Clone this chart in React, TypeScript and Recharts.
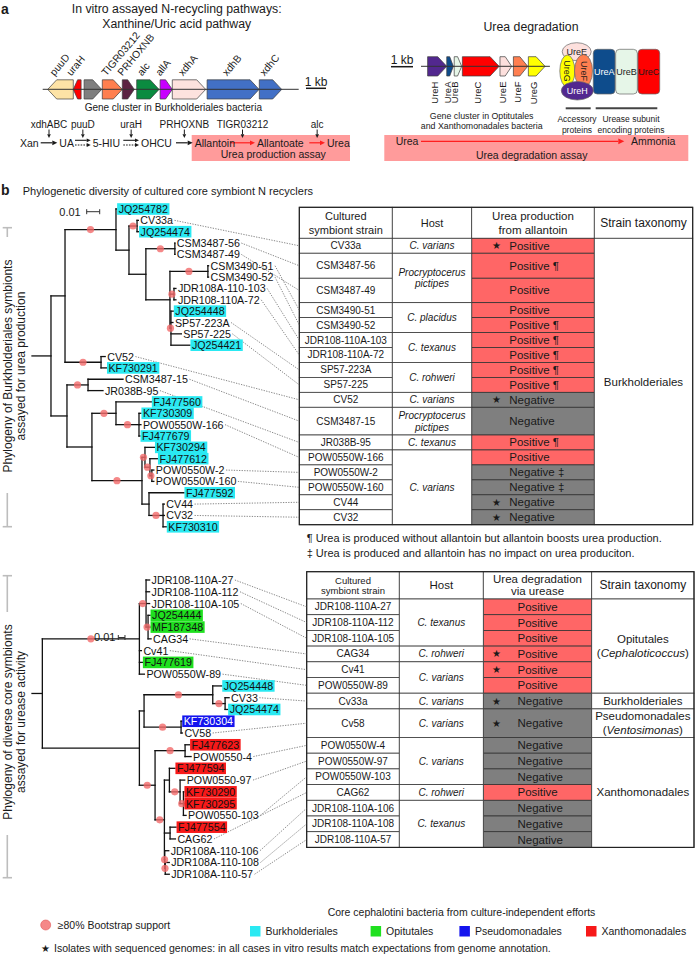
import React from 'react';
import { ComposedChart, XAxis, YAxis, Scatter, ReferenceLine, ReferenceArea, ReferenceDot } from 'recharts';

const FONT = '"Liberation Sans", Arial, Helvetica, sans-serif';
const INK = '#1a1a1a';
const POS = '#ff6666';
const NEG = '#7f7f7f';
const ASSAY = '#ff9b9b';
const BOOT = '#f26a6a';
const LEAF_FS = 10.7;

const BU = 'Burkholderiales';
const OP = 'Opitutales';
const PS = 'Pseudomonadales';
const XA = 'Xanthomonadales';

// ---------- a: gene clusters, positions in kb ----------
const xanGenes = [
  { gene: 'puuD', start: 0.25, end: 1.53, strand: -1 },
  { gene: 'uraH', start: 1.53, end: 1.92, strand: -1 },
  { gene: 'orf', start: 2.07, end: 2.95, strand: 1 },
  { gene: 'TIGR03212', start: 2.98, end: 3.98, strand: 1 },
  { gene: 'PRHOXNB', start: 3.98, end: 4.58, strand: 1 },
  { gene: 'alc', start: 4.7, end: 5.82, strand: 1 },
  { gene: 'allA', start: 5.87, end: 6.48, strand: 1 },
  { gene: 'xdhA', start: 6.48, end: 8.15, strand: 1 },
  { gene: 'xdhB', start: 8.22, end: 10.82, strand: 1 },
  { gene: 'xdhC', start: 10.83, end: 11.95, strand: 1 },
];
const xanContigKb = 12.8;

const ureGenes = [
  { gene: 'UreH', start: 0.3, end: 1.17, strand: 1 },
  { gene: 'UreA', start: 1.17, end: 1.47, strand: 1 },
  { gene: 'UreB', start: 1.51, end: 1.85, strand: 1 },
  { gene: 'UreC', start: 1.88, end: 3.55, strand: 1 },
  { gene: 'UreE', start: 3.59, end: 4.12, strand: 1 },
  { gene: 'UreF', start: 4.2, end: 4.85, strand: 1 },
  { gene: 'UreG', start: 4.88, end: 5.64, strand: 1 },
];
const ureContigKb = 5.86;

const pathwaySteps = [
  { enzyme: 'xdhABC', from: 'Xan', to: 'UA', arrow: 'solid' },
  { enzyme: 'puuD', from: 'UA', to: '5-HIU', arrow: 'double' },
  { enzyme: 'uraH', from: '5-HIU', to: 'OHCU', arrow: 'double' },
  { enzyme: 'PRHOXNB', from: 'OHCU', to: 'Allantoin', arrow: 'solid' },
  { enzyme: 'TIGR03212', from: 'Allantoin', to: 'Allantoate', arrow: 'assay' },
  { enzyme: 'alc', from: 'Allantoate', to: 'Urea', arrow: 'assay' },
];

const accessoryProteins = ['UreE', 'UreG', 'UreF', 'UreH'];
const subunitProteins = ['UreA', 'UreB', 'UreC'];

const geneColor: Record<string, string> = {
  puuD: '#fde3a6', uraH: '#ff0000', orf: '#7f7f7f', TIGR03212: '#ff7f4f', PRHOXNB: '#5c2343',
  alc: '#0b8b40', allA: '#c800ff', xdhA: '#fde2de', xdhB: '#4270c6', xdhC: '#4270c6',
  UreH: '#52288f', UreA: '#0e4c8c', UreB: '#e6f6e8', UreC: '#ff0000', UreE: '#fde0dd', UreF: '#ff7f50', UreG: '#ffff00',
};

// ---------- b: trees, branch lengths in 0.001 substitutions/site ----------
type TLeaf = { name: string; len: number; grp: string };
type TNode = { len: number; boot: boolean; kids: Array<TNode | TLeaf> };
const lf = (name: string, len: number, grp = ''): TLeaf => ({ name, len, grp });
const nd = (len: number, boot: boolean, ...kids: Array<TNode | TLeaf>): TNode => ({ len, boot, kids });

const prodTree = nd(14.6, false,
  nd(10.8, false,
    nd(39.2, true,
      lf('JQ254782', 0.5, BU),
      nd(10, false,
        nd(6.2, true, lf('CV33a', 1), lf('JQ254474', 1.2, BU)),
        nd(13, false,
          nd(22.3, true, lf('CSM3487-56', 0), lf('CSM3487-49', 0)),
          nd(18.5, false,
            nd(29.2, true, lf('CSM3490-51', 0.5), lf('CSM3490-52', 0.5)),
            nd(3.1, true, lf('JDR108A-110-103', 1.5), lf('JDR108-110A-72', 1.5)),
            nd(0.8, true, lf('JQ254448', 1.8, BU), lf('SP57-223A', 1.5), lf('SP57-225', 8), lf('JQ254421', 14.6, BU)))))),
    nd(27.7, true, lf('CV52', 3.2), lf('KF730291', 4.2, BU))),
  nd(12.3, false,
    nd(16.2, true, lf('CSM3487-15', 26.9), lf('JR038B-95', 11.5)),
    nd(19.2, false,
      nd(18.5, true,
        lf('FJ477560', 27.2, BU),
        nd(17.7, true, lf('KF730309', 1.5, BU), lf('POW0550W-166', 1.5), lf('FJ477679', 0.8, BU))),
      nd(38.5, true,
        nd(2.3, true,
          lf('KF730294', 7.3, BU),
          nd(3.8, true,
            lf('FJ477612', 5.8, BU),
            nd(1.5, true, lf('POW0550W-2', 1.5), lf('POW0550W-160', 1.5)))),
        nd(5.4, false,
          lf('FJ477592', 26.9, BU),
          nd(10.8, true, lf('CV44', 1), lf('CV32', 1), lf('KF730310', 2.5, BU)))))));

const ureaseTree = nd(15.5, false,
  nd(145.5, true,
    nd(10, true,
      lf('JDR108-110A-27', 5.3), lf('JDR108-110A-112', 5.3), lf('JDR108-110A-105', 5.3),
      nd(3, true, lf('JQ254444', 3, OP), lf('MF187348', 3, OP), lf('CAG34', 4.5))),
    lf('Cv41', 3), lf('FJ477619', 4.5, OP), lf('POW0550W-89', 7.5)),
  nd(145.5, false,
    nd(7, false,
      nd(103, true,
        lf('JQ254448', 13.5, BU),
        nd(18.5, true, lf('CV33', 6), lf('JQ254474', 3.8, BU))),
      nd(55.5, true, lf('KF730304', 1, PS), lf('CV58', 2))),
    nd(23.5, true,
      nd(45, true, lf('FJ477623', 6.8, XA), lf('POW0550-4', 9)),
      nd(14, true,
        nd(7.5, false,
          lf('FJ477594', 8.3, XA),
          nd(16, true,
            lf('POW0550-97', 7),
            nd(5, true, lf('KF730290', 0.8, XA), lf('KF730295', 0.8, XA), lf('POW0550-103', 4)))),
        nd(8.5, false, lf('FJ477554', 9, XA), lf('CAG62', 8)),
        nd(0.5, true, lf('JDR108A-110-106', 6), nd(0.8, true, lf('JDR108A-110-108', 6), lf('JDR108A-110-57', 6)))))));

const groupFill: Record<string, string> = { [BU]: '#2ae9f2', [OP]: '#1fe01f', [PS]: '#1414ee', [XA]: '#f71919' };
const groupInk: Record<string, string> = { [PS]: '#ffffff' };
const legendGroups = [BU, OP, PS, XA];

// ---------- b: tables ----------
const prodStrains = ['CV33a', 'CSM3487-56', 'CSM3487-49', 'CSM3490-51', 'CSM3490-52', 'JDR108-110A-103', 'JDR108-110A-72', 'SP57-223A', 'SP57-225', 'CV52', 'CSM3487-15', 'JR038B-95', 'POW0550W-166', 'POW0550W-2', 'POW0550W-160', 'CV44', 'CV32'];
const prodResults = ['Positive', 'Positive', 'Positive', 'Positive', 'Positive', 'Positive', 'Positive', 'Positive', 'Positive', 'Negative', 'Negative', 'Positive', 'Positive', 'Negative', 'Negative', 'Negative', 'Negative'];
const prodNotes = ['', '¶', '', '', '¶', '¶', '¶', '¶', '¶', '', '', '¶', '', '‡', '‡', '', ''];
const prodGenome = [true, false, false, false, false, false, false, false, false, true, false, false, false, false, false, true, true];
const prodHosts: [string, number][] = [['C. varians', 1], ['Procryptocerus pictipes', 2], ['C. placidus', 2], ['C. texanus', 2], ['C. rohweri', 2], ['C. varians', 1], ['Procryptocerus pictipes', 1], ['C. texanus', 1], ['C. varians', 5]];
const prodTaxa: [string, string, number][] = [['Burkholderiales', '', 17]];

const ureaseStrains = ['JDR108-110A-27', 'JDR108-110A-112', 'JDR108-110A-105', 'CAG34', 'Cv41', 'POW0550W-89', 'Cv33a', 'Cv58', 'POW0550W-4', 'POW0550W-97', 'POW0550W-103', 'CAG62', 'JDR108-110A-106', 'JDR108-110A-108', 'JDR108-110A-57'];
const ureaseResults = ['Positive', 'Positive', 'Positive', 'Positive', 'Positive', 'Positive', 'Negative', 'Negative', 'Negative', 'Negative', 'Negative', 'Positive', 'Negative', 'Negative', 'Negative'];
const ureaseGenome = [false, false, false, true, true, false, true, true, false, false, false, false, false, false, false];
const ureaseHosts: [string, number][] = [['C. texanus', 3], ['C. rohweri', 1], ['C. varians', 2], ['C. varians', 1], ['C. varians', 1], ['C. varians', 3], ['C. rohweri', 1], ['C. texanus', 3]];
const ureaseTaxa: [string, string, number][] = [['Opitutales', 'Cephaloticoccus', 6], ['Burkholderiales', '', 1], ['Pseudomonadales', 'Ventosimonas', 1], ['Xanthomonadales', '', 7]];

// ---------- helpers ----------
let measureCtx: CanvasRenderingContext2D | null = null;
function textWidth(s: string, size: number, italic = false) {
  if (!measureCtx) measureCtx = document.createElement('canvas').getContext('2d');
  if (!measureCtx) return s.length * size * 0.55;
  measureCtx.font = `${italic ? 'italic ' : ''}${size}px "Liberation Sans"`;
  return measureCtx.measureText(s).width;
}

type TxtOpt = { size?: number; anchor?: 'start' | 'middle' | 'end'; bold?: boolean; italic?: boolean; fill?: string; rotate?: number; base?: string };
const txt = (key: string, x: number, y: number, s: React.ReactNode, o: TxtOpt = {}) => (
  <ReferenceDot key={key} x={x} y={y} r={0} ifOverflow="visible"
    shape={(p: any) => (
      <text x={p.cx} y={p.cy} fontFamily={FONT} fontSize={o.size ?? 10} textAnchor={o.anchor ?? 'middle'}
        dominantBaseline={o.base ?? 'central'} fontWeight={o.bold ? 700 : 400} fontStyle={o.italic ? 'italic' : 'normal'}
        fill={o.fill ?? INK} transform={o.rotate ? `rotate(${o.rotate} ${p.cx} ${p.cy})` : undefined}>{s}</text>
    )} />
);

type SegOpt = { stroke?: string; w?: number; dash?: string; cap?: 'butt' | 'square' | 'round' };
const seg = (key: string, x1: number, y1: number, x2: number, y2: number, o: SegOpt = {}) => (
  <ReferenceLine key={key} segment={[{ x: x1, y: y1 }, { x: x2, y: y2 }]} ifOverflow="visible"
    stroke={o.stroke ?? INK} strokeWidth={o.w ?? 1} strokeDasharray={o.dash} strokeLinecap={o.cap ?? 'butt'} />
);

const arrow = (key: string, x1: number, y1: number, x2: number, y2: number, o: SegOpt & { head?: number } = {}) => (
  <ReferenceLine key={key} segment={[{ x: x1, y: y1 }, { x: x2, y: y2 }]} ifOverflow="visible"
    shape={(p: any) => {
      const dx = p.x2 - p.x1, dy = p.y2 - p.y1, L = Math.hypot(dx, dy) || 1;
      const ux = dx / L, uy = dy / L, hl = o.head ?? 5, hw = hl * 0.48;
      const bx = p.x2 - ux * hl, by = p.y2 - uy * hl;
      const c = o.stroke ?? INK;
      return (
        <g>
          <line x1={p.x1} y1={p.y1} x2={bx} y2={by} stroke={c} strokeWidth={o.w ?? 1.1} strokeDasharray={o.dash} />
          <polygon points={`${p.x2},${p.y2} ${bx - uy * hw},${by + ux * hw} ${bx + uy * hw},${by - ux * hw}`} fill={c} />
        </g>
      );
    }} />
);

type BoxLine = { t: React.ReactNode; size: number; italic?: boolean; color?: string };
type BoxOpt = { lead?: number; padLeft?: number; star?: number; stroke?: string; sw?: number; rx?: number };
const box = (key: string, x1: number, x2: number, y1: number, y2: number, fill: string, lines: BoxLine[] = [], o: BoxOpt = {}) => (
  <ReferenceArea key={key} x1={x1} x2={x2} y1={y1} y2={y2} ifOverflow="visible"
    shape={(p: any) => {
      const lead = o.lead ?? 12;
      const cy = p.y + p.height / 2;
      const left = o.padLeft !== undefined;
      const tx = left ? p.x + (o.padLeft as number) : p.x + p.width / 2;
      return (
        <g>
          <rect x={p.x} y={p.y} width={p.width} height={p.height} rx={o.rx ?? 0} fill={fill}
            stroke={o.stroke ?? '#3a3a3a'} strokeWidth={o.sw ?? 0.8} />
          {o.star !== undefined && (
            <text x={p.x + o.star} y={cy} fontSize={10} textAnchor="middle" dominantBaseline="central" fill={INK}>★</text>
          )}
          {lines.map((l, i) => (
            <text key={i} x={tx} y={cy + (i - (lines.length - 1) / 2) * lead} fontSize={l.size} fontFamily={FONT}
              fontStyle={l.italic ? 'italic' : 'normal'} textAnchor={left ? 'start' : 'middle'}
              dominantBaseline="central" fill={l.color ?? INK}>{l.t}</text>
          ))}
        </g>
      );
    }} />
);

const geneShape = (strand: number, fill: string) => (p: any) => {
  const { x, y, width: w, height: h } = p;
  const tip = Math.min(9, w * 0.55);
  const pts = strand > 0
    ? [[x, y], [x + w - tip, y], [x + w, y + h / 2], [x + w - tip, y + h], [x, y + h]]
    : [[x + w, y], [x + tip, y], [x, y + h / 2], [x + tip, y + h], [x + w, y + h]];
  return <polygon points={pts.map((q) => q.join(',')).join(' ')} fill={fill} stroke="#3c3c3c" strokeWidth={0.7} />;
};

type PLeaf = { x: number; y: number; name: string; grp: string };
function layoutTree(root: TNode, x0: number, ppu: number, y0: number, dy: number) {
  const leaves: PLeaf[] = [];
  const branches: number[][] = [];
  const boots: { x: number; y: number }[] = [];
  const walk = (n: TNode | TLeaf, px: number): number => {
    const x = px + n.len * ppu;
    let y: number;
    if ('name' in n) {
      y = y0 + leaves.length * dy;
      leaves.push({ x, y, name: n.name, grp: n.grp });
    } else {
      const ys = n.kids.map((k) => walk(k, x));
      y = (ys[0] + ys[ys.length - 1]) / 2;
      branches.push([x, ys[0], x, ys[ys.length - 1]]);
      if (n.boot) boots.push({ x: (px + x) / 2, y });
    }
    branches.push([px, y, x, y]);
    return y;
  };
  walk(root, x0);
  return { leaves, branches, boots };
}

type TableCfg = {
  cols: number[]; top: number; head: number; rowH: number; tall: Record<string, number>;
  resultPad: number; starPad: number;
  header: { lines: string[]; size: number; lead: number }[];
};
type TableData = {
  strains: string[]; results: string[]; notes?: string[]; genome: boolean[];
  hosts: [string, number][]; taxa: [string, string, number][];
};

function tableEls(id: string, t: TableCfg, d: TableData) {
  const [c0, c1, c2, c3, c4] = t.cols;
  const els: React.ReactNode[] = [];
  const hb = t.top + t.head;
  const rows: { y1: number; y2: number }[] = [];
  let y = hb;
  d.strains.forEach((s) => {
    const h = t.tall[s] ?? t.rowH;
    rows.push({ y1: y, y2: y + h });
    y += h;
  });
  const bottom = y;
  t.header.forEach((h, i) => {
    els.push(box(`${id}-h${i}`, t.cols[i], t.cols[i + 1], t.top, hb, '#fff', h.lines.map((l) => ({ t: l, size: h.size })), { lead: h.lead }));
  });
  d.strains.forEach((s, i) => {
    const r = rows[i];
    els.push(box(`${id}-s${i}`, c0, c1, r.y1, r.y2, '#fff', [{ t: s, size: 10 }]));
    const note = d.notes && d.notes[i] ? ` ${d.notes[i]}` : '';
    els.push(box(`${id}-r${i}`, c2, c3, r.y1, r.y2, d.results[i] === 'Positive' ? POS : NEG,
      [{ t: d.results[i] + note, size: 11.5 }], { padLeft: t.resultPad, star: d.genome[i] ? t.starPad : undefined, stroke: '#333' }));
  });
  let k = 0;
  d.hosts.forEach(([host, n], gi) => {
    const y1 = rows[k].y1, y2 = rows[k + n - 1].y2;
    k += n;
    const tooWide = textWidth(host, 10, true) > c2 - c1 - 8;
    const lines = tooWide ? [host.slice(0, host.indexOf(' ')), host.slice(host.indexOf(' ') + 1)] : [host];
    els.push(box(`${id}-g${gi}`, c1, c2, y1, y2, '#fff', lines.map((l) => ({ t: l, size: 10, italic: true })), { lead: 11.7 }));
  });
  k = 0;
  d.taxa.forEach(([taxon, genus, n], gi) => {
    const y1 = rows[k].y1, y2 = rows[k + n - 1].y2;
    k += n;
    const lines: BoxLine[] = [{ t: taxon, size: 11.5 }];
    if (genus) lines.push({ t: <>(<tspan fontStyle="italic">{genus}</tspan>)</>, size: 11.5 });
    els.push(box(`${id}-x${gi}`, c3, c4, y1, y2, '#fff', lines, { lead: 14 }));
  });
  els.push(
    <ReferenceArea key={`${id}-border`} x1={c0} x2={c4} y1={t.top} y2={bottom} ifOverflow="visible"
      shape={(p: any) => <rect x={p.x} y={p.y} width={p.width} height={p.height} fill="none" stroke="#222" strokeWidth={1.2} />} />
  );
  return { els, rows };
}

const prodLayout: TableCfg = {
  cols: [299.3, 392.3, 471.7, 594.3, 692.7], top: 207.3, head: 31, rowH: 14.95,
  tall: { 'CSM3487-56': 25, 'CSM3487-49': 24.4, 'CSM3487-15': 27.7 }, resultPad: 37.6, starPad: 25,
  header: [
    { lines: ['Cultured', 'symbiont strain'], size: 11, lead: 14 },
    { lines: ['Host'], size: 11, lead: 14 },
    { lines: ['Urea production', 'from allantoin'], size: 11.5, lead: 14 },
    { lines: ['Strain taxonomy'], size: 12, lead: 14 },
  ],
};
const ureaseLayout: TableCfg = {
  cols: [306.7, 399.3, 483.3, 591.7, 694], top: 571.7, head: 27.3, rowH: 15.7,
  tall: { Cv58: 28.6 }, resultPad: 34.2, starPad: 13.4,
  header: [
    { lines: ['Cultured', 'symbiont strain'], size: 9.5, lead: 10.5 },
    { lines: ['Host'], size: 11.5, lead: 12 },
    { lines: ['Urea degradation', 'via urease'], size: 11.5, lead: 12 },
    { lines: ['Strain taxonomy'], size: 12, lead: 12 },
  ],
};

const LeafShape = (p: any) => {
  const name = p.payload?.name ?? p.name;
  const grp = p.payload?.grp ?? p.grp;
  const w = textWidth(name, LEAF_FS);
  const bg = groupFill[grp];
  return (
    <g>
      {bg && <rect x={p.cx + 0.5} y={p.cy - 5.8} width={w + 3} height={11.6} fill={bg} />}
      <text x={p.cx + 2} y={p.cy} fontFamily={FONT} fontSize={LEAF_FS} dominantBaseline="central" fill={groupInk[grp] ?? '#111'}>{name}</text>
    </g>
  );
};

export default function App() {
  const topTree = layoutTree(prodTree, 32, 1.3, 209, 11.35);
  const botTree = layoutTree(ureaseTree, 32, 0.667, 580, 11.77);
  const prod = tableEls('pt', prodLayout, { strains: prodStrains, results: prodResults, notes: prodNotes, genome: prodGenome, hosts: prodHosts, taxa: prodTaxa });
  const ure = tableEls('ut', ureaseLayout, { strains: ureaseStrains, results: ureaseResults, genome: ureaseGenome, hosts: ureaseHosts, taxa: ureaseTaxa });

  const xanX = (kb: number) => 42.7 + kb * 20;
  const ureX = (kb: number) => 421 + kb * 22;

  const els: React.ReactNode[] = [];

  // ----- panel a (left): xanthine / uric acid -----
  els.push(box('assayL', 191.7, 350, 135, 161, ASSAY, [], { stroke: 'none' }));
  els.push(box('assayR', 384.3, 688.3, 135, 161, ASSAY, [], { stroke: 'none' }));
  els.push(txt('a', 1, 9, 'a', { size: 14, bold: true, anchor: 'start' }));
  els.push(txt('tA1', 176.7, 9, 'In vitro assayed N-recycling pathways:', { size: 12.3 }));
  els.push(txt('tA2', 176.7, 24.3, 'Xanthine/Uric acid pathway', { size: 12.3 }));
  els.push(seg('xanBack', xanX(0), 89.3, xanX(xanContigKb), 89.3, { stroke: '#333', w: 1 }));
  xanGenes.forEach((g, i) => {
    els.push(
      <ReferenceArea key={`xg${i}`} x1={xanX(g.start)} x2={xanX(g.end)} y1={79.8} y2={99} ifOverflow="visible"
        shape={geneShape(g.strand, geneColor[g.gene])} />
    );
    if (g.gene !== 'orf') {
      els.push(txt(`xgl${i}`, xanX((g.start + g.end) / 2) - 6, 76.5, g.gene, { size: 10.3, anchor: 'start', rotate: -50, base: 'alphabetic' }));
    }
  });
  els.push(seg('kbL', 306, 88.3, 306 + 20, 88.3, { w: 1.5 }));
  els.push(txt('kbLt', 316, 81.5, '1 kb', { size: 12 }));
  els.push(txt('gcL', 173.3, 107.7, 'Gene cluster in Burkholderiales bacteria', { size: 10 }));

  const stepSpan = [[40.7, 57.3], [75, 90.7], [123.3, 139], [176, 192.7], [230, 255], [309.3, 325]];
  els.push(txt('cmp0', stepSpan[0][0] - 2, 143.3, pathwaySteps[0].from, { size: 10.5, anchor: 'end' }));
  pathwaySteps.forEach((s, i) => {
    const [a0, a1] = stepSpan[i];
    const mid = (a0 + a1) / 2;
    els.push(txt(`enz${i}`, mid, 124.3, s.enzyme, { size: 10 }));
    els.push(arrow(`down${i}`, mid, 129.5, mid, 138, { w: 1, head: 3.8 }));
    if (s.arrow === 'double') {
      els.push(arrow(`ra${i}a`, a0, 140.3, a1, 140.3, { w: 1.1, head: 4 }));
      els.push(arrow(`ra${i}b`, a0, 145, a1, 145, { w: 1.1, head: 4, dash: '1.6 1.2' }));
    } else {
      els.push(arrow(`ra${i}`, a0, 142.8, a1, 142.8, { w: 1.2, head: 5, stroke: s.arrow === 'assay' ? '#ff1f1f' : INK }));
    }
    els.push(txt(`cmp${i + 1}`, a1 + 2, 143.3, s.to, { size: 10.5, anchor: 'start' }));
  });
  els.push(txt('assayLt', 273.3, 154.3, 'Urea production assay', { size: 10.5 }));

  // ----- panel a (right): urea degradation -----
  els.push(txt('tB', 531, 26.7, 'Urea degradation', { size: 12.3 }));
  els.push(seg('kbR', 391, 66.7, 391 + 22, 66.7, { w: 1.5 }));
  els.push(txt('kbRt', 402, 60.3, '1 kb', { size: 12 }));
  els.push(seg('ureBack', ureX(0), 66.3, ureX(ureContigKb), 66.3, { stroke: '#333', w: 1 }));
  ureGenes.forEach((g, i) => {
    els.push(
      <ReferenceArea key={`ug${i}`} x1={ureX(g.start)} x2={ureX(g.end)} y1={56.7} y2={76} ifOverflow="visible"
        shape={geneShape(g.strand, geneColor[g.gene])} />
    );
    els.push(txt(`ugl${i}`, ureX((g.start + g.end) / 2) - 3, 81.5, g.gene, { size: 9.5, anchor: 'end', rotate: -90 }));
  });
  els.push(txt('gcR1', 481.7, 116, 'Gene cluster in Optitutales', { size: 8.8 }));
  els.push(txt('gcR2', 481.7, 126.3, 'and Xanthomonadales bacteria', { size: 8.8 }));

  const accLayout: Record<string, { cx: number; cy: number; rx: number; ry: number; rot?: number; ink?: string }> = {
    UreE: { cx: 576.7, cy: 51.7, rx: 14.5, ry: 9 },
    UreG: { cx: 567.3, cy: 71, rx: 7.5, ry: 16, rot: 90 },
    UreF: { cx: 583.5, cy: 71, rx: 9, ry: 16.5, rot: 90 },
    UreH: { cx: 577.3, cy: 90.7, rx: 16, ry: 9.3, ink: '#ffffff' },
  };
  accessoryProteins.forEach((name, i) => {
    const L = accLayout[name];
    els.push(
      <ReferenceDot key={`acc${i}`} x={L.cx} y={L.cy} r={0} ifOverflow="visible"
        shape={(p: any) => (
          <g>
            <ellipse cx={p.cx} cy={p.cy} rx={L.rx} ry={L.ry} fill={geneColor[name]} stroke="#666" strokeWidth={0.7} />
            <text x={p.cx} y={p.cy} fontFamily={FONT} fontSize={9} textAnchor="middle" dominantBaseline="central"
              fill={L.ink ?? INK} transform={L.rot ? `rotate(${L.rot} ${p.cx} ${p.cy})` : undefined}>{name}</text>
          </g>
        )} />
    );
  });
  subunitProteins.forEach((name, i) => {
    const x1 = 593.3 + i * 22.35;
    els.push(box(`sub${i}`, x1, x1 + 21.7, 49.3, 94, geneColor[name],
      [{ t: name, size: 9, color: name === 'UreA' ? '#ffffff' : INK }], { rx: 4, stroke: '#666', sw: 0.7 }));
  });
  els.push(seg('accBar', 565.7, 108.3, 590.7, 108.3, { stroke: '#444', w: 2 }));
  els.push(seg('subBar', 595.7, 108.3, 657.3, 108.3, { stroke: '#444', w: 2 }));
  els.push(txt('acc1', 577, 119.3, 'Accessory', { size: 8.5 }));
  els.push(txt('acc2', 577, 129.5, 'proteins', { size: 8.5 }));
  els.push(txt('sub1', 631, 119.3, 'Urease subunit', { size: 8.5 }));
  els.push(txt('sub2', 631, 129.5, 'encoding proteins', { size: 8.5 }));
  els.push(txt('urea', 395.7, 141.3, 'Urea', { size: 10.5, anchor: 'start' }));
  els.push(arrow('ureaArr', 421, 141.3, 624.3, 141.3, { stroke: '#ff1f1f', w: 1.3, head: 6 }));
  els.push(txt('ammonia', 631, 141.3, 'Ammonia', { size: 10.5, anchor: 'start' }));
  els.push(txt('assayRt', 531.7, 155, 'Urea degradation assay', { size: 10.5 }));

  // ----- panel b -----
  els.push(txt('b', 1, 190, 'b', { size: 14, bold: true, anchor: 'start' }));
  els.push(txt('tb', 22.7, 191.3, 'Phylogenetic diversity of cultured core symbiont N recyclers', { size: 11, anchor: 'start' }));

  // tables
  els.push(...prod.els, ...ure.els);

  // trees
  [topTree, botTree].forEach((t, ti) => {
    t.branches.forEach((b, i) => els.push(seg(`br${ti}-${i}`, b[0], b[1], b[2], b[3], { stroke: '#111', w: 1.3, cap: 'square' })));
  });

  // scale bars
  const sbar = (id: string, x: number, y: number, len: number) => {
    els.push(seg(`${id}a`, x, y, x + len, y, { stroke: '#333', w: 1 }));
    els.push(seg(`${id}b`, x, y - 2.5, x, y + 2.5, { stroke: '#333', w: 1 }));
    els.push(seg(`${id}c`, x + len, y - 2.5, x + len, y + 2.5, { stroke: '#333', w: 1 }));
  };
  els.push(txt('sb1t', 70, 211.7, '0.01', { size: 11 }));
  sbar('sb1', 86.7, 211.7, 10 * 1.3);
  els.push(txt('sb2t', 104.7, 637, '0.01', { size: 11 }));
  sbar('sb2', 118.3, 637.5, 10 * 0.667);

  // connectors from cultured strain labels to table rows
  const connect = (id: string, leaves: PLeaf[], rows: { y1: number; y2: number }[], left: number) => {
    leaves.filter((l) => !l.grp).forEach((l, i) => {
      const r = rows[i];
      if (!r) return;
      const sx = l.x + 2 + textWidth(l.name, LEAF_FS) + 1.5;
      els.push(seg(`${id}${i}`, sx, l.y, left, (r.y1 + r.y2) / 2, { stroke: '#555', w: 0.7, dash: '1.3 1.3' }));
    });
  };
  connect('cnT', topTree.leaves, prod.rows, prodLayout.cols[0]);
  connect('cnB', botTree.leaves, ure.rows, ureaseLayout.cols[0]);

  // side brackets and titles
  const gray = { stroke: '#bdbdbd', w: 1.6 };
  els.push(seg('brT1', 2.7, 227.7, 12, 227.7, gray), seg('brT2', 7.3, 227.7, 7.3, 237, gray));
  els.push(seg('brT3', 7.3, 493, 7.3, 526.7, gray), seg('brT4', 2.7, 526.7, 12, 526.7, gray));
  els.push(seg('brB1', 2.7, 575.7, 12, 575.7, gray), seg('brB2', 7.3, 575.7, 7.3, 612, gray));
  els.push(seg('brB3', 7.3, 835, 7.3, 877.7, gray), seg('brB4', 2.7, 877.7, 12, 877.7, gray));
  els.push(txt('sideT1', 8, 366, 'Phylogeny of Burkholderiales symbionts', { size: 12, rotate: -90 }));
  els.push(txt('sideT2', 21, 366, 'assayed for urea production', { size: 12, rotate: -90 }));
  els.push(txt('sideB1', 8, 722, 'Phylogeny of diverse core symbionts', { size: 12, rotate: -90 }));
  els.push(txt('sideB2', 21, 722, 'assayed for urease activity', { size: 12, rotate: -90 }));

  // footnotes
  els.push(txt('fn1', 306.7, 538.3, '¶ Urea is produced without allantoin but allantoin boosts urea production.', { size: 11, anchor: 'start' }));
  els.push(txt('fn2', 306.7, 552.7, '‡ Urea is produced and allantoin has no impact on urea produciton.', { size: 11, anchor: 'start' }));

  // legend
  els.push(
    <ReferenceDot key="lgBoot" x={45.7} y={925} r={0} ifOverflow="visible"
      shape={(p: any) => <circle cx={p.cx} cy={p.cy} r={5} fill={BOOT} fillOpacity={0.8} stroke="#e05555" strokeWidth={0.6} />} />
  );
  els.push(txt('lgBootT', 57.7, 925, '≥80% Bootstrap support', { size: 10.5, anchor: 'start' }));
  els.push(txt('lgTitle', 461.5, 912, 'Core cephalotini bacteria from culture-independent efforts', { size: 10.5 }));
  const swatchX = [250, 370.6, 459.4, 586];
  legendGroups.forEach((g, i) => {
    els.push(box(`lgs${i}`, swatchX[i], swatchX[i] + 10.5, 926, 936.5, groupFill[g], [], { stroke: 'none' }));
    els.push(txt(`lgt${i}`, swatchX[i] + 15.5, 931.3, g, { size: 10.5, anchor: 'start' }));
  });
  els.push(txt('lgStar', 45, 948.3, '★', { size: 10 }));
  els.push(txt('lgStarT', 54, 948.3, 'Isolates with sequenced genomes: in all cases in vitro results match expectations from genome annotation.', { size: 10.5, anchor: 'start' }));

  return (
    <div style={{ position: 'absolute', left: 0, top: 0, width: 696, height: 955, background: '#fff' }}>
      <ComposedChart width={696} height={955} margin={{ top: 0, right: 0, bottom: 0, left: 0 }}>
        <XAxis type="number" dataKey="x" domain={[0, 696]} hide allowDataOverflow />
        <YAxis type="number" dataKey="y" domain={[0, 955]} hide reversed allowDataOverflow />
        {els}
        <Scatter data={[...topTree.boots, ...botTree.boots]} isAnimationActive={false}
          shape={(p: any) => <circle cx={p.cx} cy={p.cy} r={3.6} fill={BOOT} fillOpacity={0.8} />} />
        <Scatter data={[...topTree.leaves, ...botTree.leaves]} isAnimationActive={false} shape={LeafShape} />
      </ComposedChart>
    </div>
  );
}
